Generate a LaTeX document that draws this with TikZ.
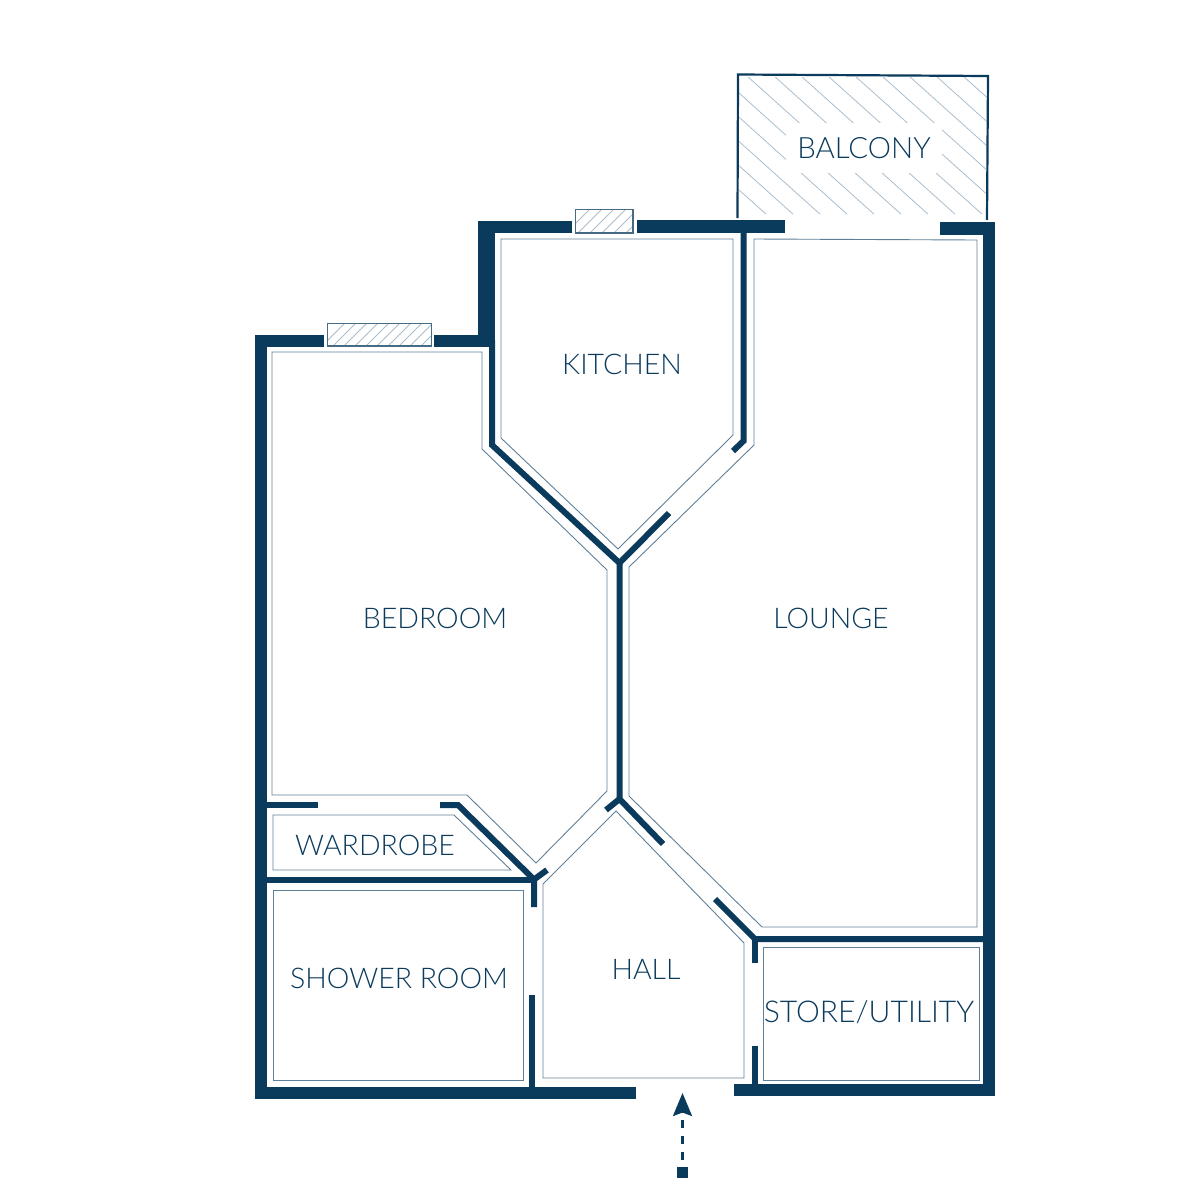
\documentclass[tikz,border=0pt]{standalone}
\usepackage{fontspec}
\setmainfont{Lato Light}
\usetikzlibrary{arrows.meta}
\definecolor{wallblue}{HTML}{0A3A5C}
\definecolor{thinblue}{HTML}{5F7F97}
\definecolor{hatchblue}{HTML}{A9BDCC}
\tikzset{
  wall/.style={draw=wallblue,line width=0.12cm,miter limit=10},
  partition/.style={draw=wallblue,line width=0.06cm},
  roomline/.style={draw=thinblue,line width=0.009cm},
  hatchline/.style={draw=hatchblue,line width=0.008cm},
  windowbox/.style={draw=wallblue!75,line width=0.014cm},
  roomlabel/.style={text=wallblue,font=\fontsize{8.1}{10}\selectfont,inner sep=0pt},
}
\begin{document}
\begin{tikzpicture}[x=0.01cm,y=-0.01cm]
\useasboundingbox (0,0) rectangle (1200,1200);
%% balcony
\begin{scope}
\clip (739,77) -- (987,77) -- (986,214) -- (739,214) -- cycle;
\foreach \xstart in {612,639,...,964}
  \draw[hatchline] (\xstart,76) -- ({\xstart+170},{76+152.5});
\end{scope}
\draw[draw=wallblue,line width=0.022cm] (737.5,218) -- (738,74.5) -- (988,76) -- (987,220);
%% windows
\begin{scope}
\clip (327,323) rectangle (432,346);
\foreach \xstart in {345,356,...,455}
  \draw[hatchline] (\xstart,323) -- ({\xstart-24},347);
\end{scope}
\draw[windowbox] (327.5,323.5) rectangle (431.5,346);
\begin{scope}
\clip (575,209) rectangle (633,233);
\foreach \xstart in {590,602,...,665}
  \draw[hatchline] (\xstart,209) -- ({\xstart-24},233);
\end{scope}
\draw[windowbox] (575.5,209.5) rectangle (633,233);
%% room outlines
\draw[roomline] (272,352) -- (482,352) -- (482,449) -- (607,570) -- (607,791) -- (536,863) -- (467,795) -- (272,795) -- cycle;
\draw[roomline] (501,239) -- (733,239) -- (733,435) -- (618,549) -- (501,438) -- cycle;
\draw[roomline] (754,239) -- (977,240) -- (977,927) -- (762,927) -- (629,796) -- (629,567) -- (754,445) -- cycle;
\draw[roomline] (616,811) -- (744,943) -- (744,1078) -- (543,1078) -- (543,884) -- cycle;
\draw[roomline] (273,815) -- (454,815) -- (511,870) -- (273,870) -- cycle;
\draw[roomline] (273,890) -- (523,890) -- (523,1080) -- (273,1080) -- cycle;
\draw[roomline] (763,947) -- (979,947) -- (979,1080) -- (763,1080) -- cycle;
%% walls
\draw[wall] (324,340.5) -- (261,340.5) -- (261,1092.5) -- (636,1092.5);
\draw[wall] (434,340.5) -- (489,340.5);
\draw[wall,line width=0.17cm] (486.5,221) -- (486.5,346);
\draw[wall] (478,227) -- (572,227);
\draw[wall] (637,226.5) -- (785,226.5);
\draw[wall] (940,228.5) -- (989,228.5) -- (989,1090) -- (734,1090);
%% partitions
\draw[partition] (492,340) -- (492,445) -- (619.5,563) -- (619.5,799);
\draw[partition] (619.5,563) -- (669,513);
\draw[partition] (743.5,230) -- (743.5,441) -- (733,451);
\draw[partition] (606,810) -- (619.5,799) -- (663,844);
\draw[partition] (715,899) -- (755,939) -- (989,939);
\draw[partition] (755,939) -- (755,963);
\draw[partition] (754.5,1046) -- (754.5,1090);
\draw[partition] (532,995) -- (532,1092);
\draw[partition] (261,879.5) -- (534,879.5);
\draw[partition] (440,805) -- (458,805) -- (534,879.5) -- (534,907);
\draw[partition] (534,879.5) -- (547,870);
\draw[partition] (261,805) -- (318,805);
%% labels
\node[roomlabel,font=\fontsize{8.35}{10}\selectfont,fill=white,minimum width=1.55cm,minimum height=0.5cm] (balcony) at (864,148) {BALCONY};
\node[roomlabel] (kitchen) at (622,364) {KITCHEN};
\node[roomlabel] (bedroom) at (435,618) {BEDROOM};
\node[roomlabel] (lounge) at (831,618) {LOUNGE};
\node[roomlabel] (wardrobe) at (375,845) {WARDROBE};
\node[roomlabel] (shower) at (399,978) {SHOWER ROOM};
\node[roomlabel] (hall) at (646,969) {HALL};
\node[roomlabel,font=\fontsize{8.55}{10}\selectfont] (store) at (869,1012) {STORE/UTILITY};
%% entrance
\node[fill=wallblue,minimum size=0.11cm,inner sep=0pt] (door) at (682.5,1172.5) {};
\coordinate (doortip) at (682.5,1093);
\draw[draw=wallblue,line width=0.025cm,dash pattern=on 0.08cm off 0.08cm,dash phase=0.1cm,-{Stealth[length=0.23cm,width=0.19cm,inset=0.035cm]}] (door) -- (doortip);
\end{tikzpicture}
\end{document}
